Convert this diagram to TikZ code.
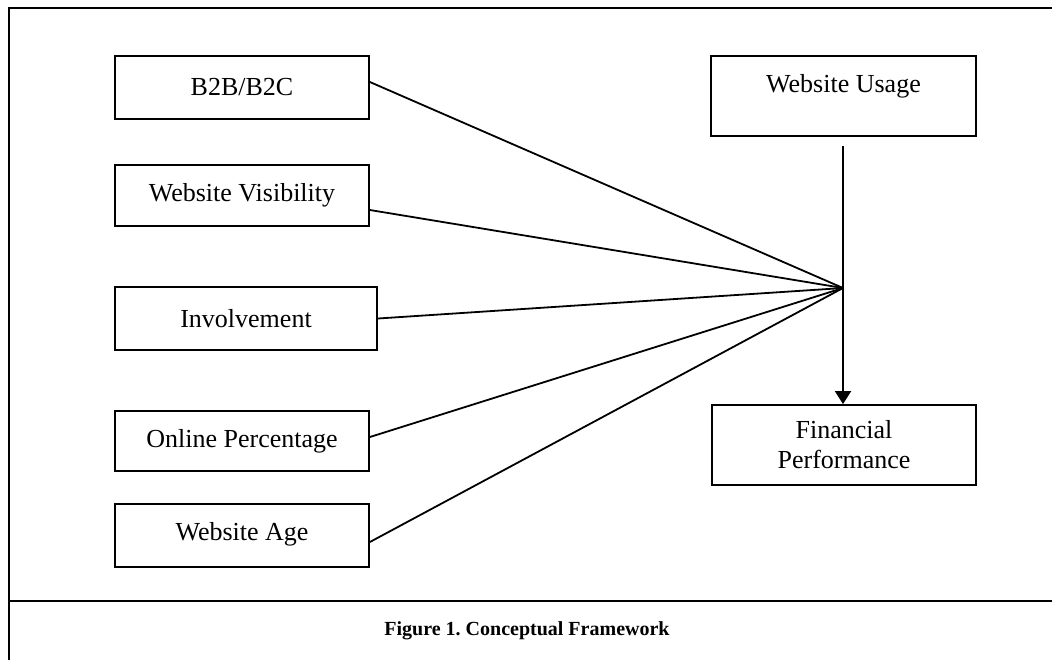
\documentclass[tikz,border=0pt]{standalone}
\usepackage{fontspec}
\setmainfont{Liberation Serif}
\usetikzlibrary{arrows.meta}
\frenchspacing

\begin{document}
\begin{tikzpicture}[x=0.5pt, y=-0.5pt,
    box/.style={draw=black, line width=0.9pt, inner sep=0pt, align=center,
                font=\fontsize{13}{15}\selectfont},
    link/.style={draw=black, line width=0.9pt},
    frame/.style={draw=black, line width=1.3pt}]
          \useasboundingbox (0,0) rectangle (1052,660);
          % Outer frame and caption rule
          \draw[frame] (1052,8) -- (9,8) -- (9,660);
          \draw[frame] (9,601) -- (1052,601);
          % Factors
          \node[box, minimum width=127pt, minimum height=31.5pt] (b2b) at (242,87.5) {B2B/B2C};
          \node[box, minimum width=127pt, minimum height=30.5pt] (visib) at (242,195.5) {Website Visibility};
          \node[box, minimum width=131pt, minimum height=31.5pt] (involve) at (246,318.5) {Involvement};
          \node[box, minimum width=127pt, minimum height=30pt] (online) at (242,441) {Online Percentage};
          \node[box, minimum width=127pt, minimum height=31.5pt, text depth=4pt] (age) at (242,535.5) {Website Age};
          % Outcomes
          \node[box, minimum width=132.5pt, minimum height=40pt, text depth=13pt] (usage) at (843.5,96) {Website Usage};
          \node[box, minimum width=132pt, minimum height=40pt] (perf) at (844,445) {Financial\\Performance};
          % Meeting point and arrow
          \coordinate (hub) at (843,288);
          \coordinate (top) at (843,146);
          \draw[link] ([yshift=2.75pt]b2b.east) -- (hub);
          \draw[link] ([yshift=-7.25pt]visib.east) -- (hub);
          \draw[link] (involve.east) -- (hub);
          \draw[link] ([yshift=2pt]online.east) -- (hub);
          \draw[link] ([yshift=-3.25pt]age.east) -- (hub);
          \draw[link, -{Triangle[width=8pt, length=6.5pt]}] (top) -- (perf.north -| top);
          % Caption
          \node[font=\fontsize{10}{12}\selectfont\bfseries] (caption) at (527,631) {Figure 1. Conceptual Framework};
        \end{tikzpicture}
\end{document}
